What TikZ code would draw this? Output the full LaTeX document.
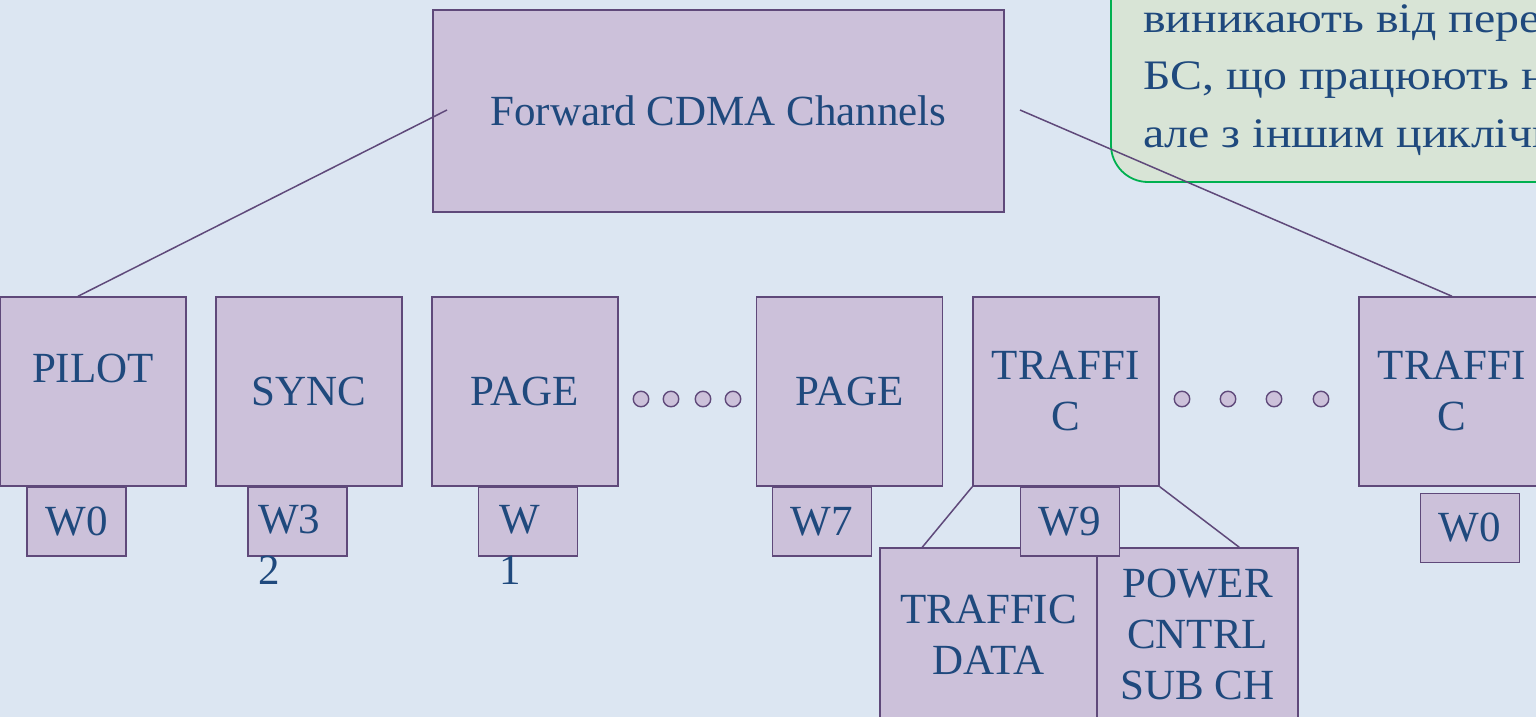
\documentclass[tikz,border=0pt]{standalone}
\usepackage{fontspec}
\setmainfont{Liberation Serif}
\newfontfamily\notefamily[FakeStretch=1.14]{Liberation Serif}
\usetikzlibrary{positioning}
\definecolor{bgblue}{RGB}{220,230,242}
\definecolor{boxfill}{RGB}{204,193,218}
\definecolor{boxline}{RGB}{95,73,122}
\definecolor{txtblue}{RGB}{31,73,125}
\definecolor{notefill}{RGB}{216,228,214}
\definecolor{notegreen}{RGB}{0,176,80}
\newcommand{\chanfont}{\fontsize{43}{51}\selectfont}
\newcommand{\notefont}{\notefamily\fontsize{42}{57.5}\selectfont}
\tikzset{
    every node/.style={text=txtblue, font=\chanfont},
    chan/.style={ % grosse kanalbox
        draw=boxline, fill=boxfill,
        line width=1.5pt,
        minimum width=186, minimum height=189,
        inner sep=0pt, align=center
    },
    code/.style={chan, minimum width=99, minimum height=69}, % walsh code
    sub/.style={chan, minimum height=173},
    ring/.style={circle, draw=boxline, fill=boxfill, line width=1.4pt,
        minimum size=15.5, inner sep=0pt},
    link/.style={draw=boxline, line width=1.5pt},
    note/.style={draw=notegreen, fill=notefill, line width=1.8pt,
        rounded corners=37}
}
\begin{document}
\begin{tikzpicture}[x=1pt, y=-1pt]
    \useasboundingbox (0,0) rectangle (1536,717);
    \clip (0,0) rectangle (1536,717);
    \fill[bgblue] (0,0) rectangle (1536,717);
    % hinweis oben rechts
    \draw[note] (1111,-60) rectangle (1620,182);
    \node[font=\notefont, align=left, anchor=north west, inner sep=0pt]
        (note) at (1143,4) {виникають від пере\\БС, що працюють н\\але з іншим циклічн};
    % erste zeile
    \node[chan, minimum width=571, minimum height=202] (fwd) at (718.5,111) {Forward CDMA Channels};
    % zweite zeile
    \node[chan]             (pilot)     at (93,391.5)   {};
    \node                   (pilotlbl)  at (93,368)     {PILOT};
    \node[chan]             (sync)      at (309,391.5)  {SYNC};
    \node[chan]             (page1)     at (525,391.5)  {PAGE};
    \node[chan]             (page7)     at (849.5,391.5) {PAGE};
    \node[chan]             (traf9)     at (1066,391.5) {TRAFFI\\C};
    \node[chan]             (trafn)     at (1452,391.5) {TRAFFI\\C};
    \foreach \x [count=\i] in {641,671,703,733}
        \node[ring] (dotA\i) at (\x,399) {};
    \foreach \x [count=\i] in {1182,1228,1274,1321}
        \node[ring] (dotB\i) at (\x,399) {};
    % dritte zeile
    \node[code]             (w0)        at (76.5,521.5) {W0};
    \node[code]             (w32)       at (297.5,521.5) {};
    \node[anchor=north west, align=left, inner sep=0pt] (w32lbl) at (258,505) {W3\\2};
    \node[code]             (w1)        at (528,521.5)  {};
    \node[anchor=north west, align=left, inner sep=0pt] (w1lbl) at (499,505) {W\\1};
    \node[code]             (w7)        at (822,521.5)  {W7};
    \node[sub, minimum width=217] (tdata) at (988.5,634.5) {TRAFFIC\\DATA};
    \node[sub, minimum width=201] (pwr)   at (1197.5,634.5) {POWER\\CNTRL\\SUB CH};
    \node[code]             (w9)        at (1070,521.5) {W9};
    \node[code]             (w0n)       at (1470,528)   {W0};
    % verbindungen
    \coordinate (fwdL) at (447,110);
    \coordinate (fwdR) at (1020,110);
    \draw[link] ([xshift=-15pt]pilot.north) -- (fwdL);
    \draw[link] (fwdR) -- (trafn.north);
    \draw[link] (traf9.south west) -- ([xshift=43pt]tdata.north west);
    \draw[link] (traf9.south east) -- ([xshift=143pt]pwr.north west);
\end{tikzpicture}
\end{document}
